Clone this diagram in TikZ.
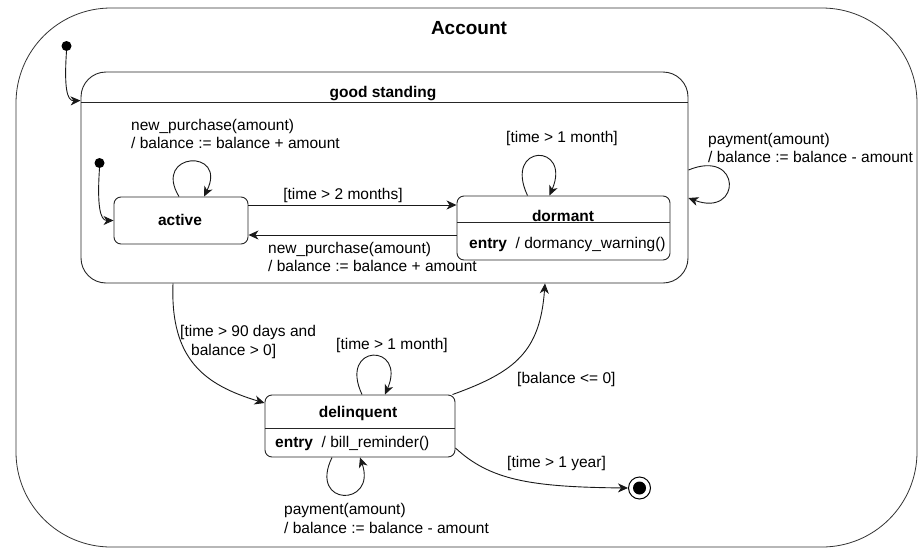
\documentclass[tikz,border=0pt]{standalone}
\usepackage{fontspec}
\setmainfont{Liberation Sans}
\usetikzlibrary{arrows.meta}

\newcommand{\lblfont}{\fontsize{15.5}{18.5}\selectfont}

\tikzset{
  statebox/.style={draw=black!85, line width=0.9pt, rounded corners=7pt, inner sep=0pt},
  tr/.style={draw=black!90, line width=0.9pt, -{Stealth[length=10pt,width=9pt,inset=3pt]}},
  lbl/.style={inner sep=0pt, align=left, font=\lblfont},
  title/.style={inner sep=0pt, font=\lblfont\bfseries},
  initdot/.style={circle, fill=black, minimum size=10pt, inner sep=0pt},
  sep/.style={draw=black!85, line width=0.9pt},
}

\begin{document}
\begin{tikzpicture}[x=1pt, y=-1pt]
\useasboundingbox (0,0) rectangle (918,549);

% composite state: Account
\node[statebox, draw=black!80, line width=0.8pt, rounded corners=95pt,
      minimum width=901pt, minimum height=539pt] (account) at (466.5,277.5) {};
\node[inner sep=0pt, font=\fontsize{19}{22}\selectfont\bfseries] (accountT) at (469,28) {Account};
\node[initdot] (init1) at (66.5,46) {};

% composite state: good standing
\node[statebox, rounded corners=25pt, minimum width=607pt, minimum height=211pt] (gs) at (384.5,177.5) {};
\node[title] (gsT) at (383,94) {good standing};
\draw[sep] (81,102.5) -- (688,102.5);
\node[initdot] (init2) at (99.5,163) {};

% simple states
\node[statebox, minimum width=134pt, minimum height=47pt] (active) at (181,220.5) {};
\node[title] (activeT) at (180,220) {active};

\node[statebox, minimum width=213pt, minimum height=64pt] (dormant) at (563.5,228) {};
\node[title] (dormantT) at (563,215.5) {dormant};
\draw[sep] (457,222) -- (670,222);
\node[lbl, anchor=west] (dormantE) at (469,244) {{\bfseries entry}~ / dormancy\_warning()};

\node[statebox, minimum width=190pt, minimum height=62pt] (delinq) at (360,426) {};
\node[title] (delinqT) at (358,413) {delinquent};
\draw[sep] (265,428) -- (455,428);
\node[lbl, anchor=west] (delinqE) at (275,443) {{\bfseries entry}~ / bill\_reminder()};

% final state
\node[circle, draw=black, line width=1pt, minimum size=22pt, inner sep=0pt] (final) at (639.5,488) {};
\fill (final.center) circle (6.5pt);

% initial transitions
\draw[tr] (init1.south) .. controls (64,88) and (67,101) .. ([yshift=-29pt]gs.north west);
\draw[tr] (init2.south) .. controls (97,205) and (100,220.5) .. (active.west);

% active
\draw[tr] ([xshift=-2pt]active.north) .. controls (152,152) and (228,148) .. ([xshift=23pt]active.north);
\node[lbl, anchor=west] (lActiveLoop) at (131,134) {new\_purchase(amount)\\/ balance := balance + amount};

\draw[tr] ([yshift=15.5pt]active.east) -- ([yshift=23pt]dormant.west);
\node[lbl] (lToDormant) at (343,195) {[time > 2 months]};

\draw[tr] ([yshift=-7pt]dormant.west) -- ([yshift=-14.5pt]active.east);
\node[lbl, anchor=west] (lToActive) at (268,257) {new\_purchase(amount)\\/ balance := balance + amount};

% dormant
\draw[tr] ([xshift=-36pt]dormant.north) .. controls (503,143) and (572,143) .. ([xshift=-14pt]dormant.north);
\node[lbl] (lDormantLoop) at (562,138) {[time > 1 month]};

% good standing self transition
\draw[tr] ([yshift=7.5pt]gs.east) .. controls (742,148) and (742,218) .. ([yshift=-20.5pt]gs.east);
\node[lbl, anchor=west] (lGsLoop) at (708,148) {payment(amount)\\/ balance := balance - amount};

% good standing -> delinquent
\draw[tr] ([xshift=-211.5pt]gs.south) .. controls (170,360) and (205,385) .. ([yshift=23pt]delinq.west);
\node[lbl, anchor=west] (lToDelinq) at (180,342) {[time > 90 days and\\\hspace*{11pt}balance > 0]};

% delinquent
\draw[tr] ([xshift=2pt]delinq.north) .. controls (338,343) and (407,343) .. ([xshift=25pt]delinq.north);
\node[lbl] (lDelinqLoop) at (392,345) {[time > 1 month]};

\draw[tr] ([xshift=-28pt]delinq.south) .. controls (308,507) and (377,507) .. (delinq.south);
\node[lbl, anchor=west] (lDelinqPay) at (284,518.5) {payment(amount)\\/ balance := balance - amount};

\draw[tr] ([xshift=-3pt]delinq.north east) .. controls (515,372) and (540,352) .. ([xshift=160.5pt]gs.south);
\node[lbl, anchor=west] (lToGs) at (517,379) {[balance <= 0]};

\draw[tr] ([yshift=-22pt]delinq.east) .. controls (490,480) and (530,487) .. (final.west);
\node[lbl, anchor=west] (lToFinal) at (507,463) {[time > 1 year]};

\end{tikzpicture}
\end{document}
